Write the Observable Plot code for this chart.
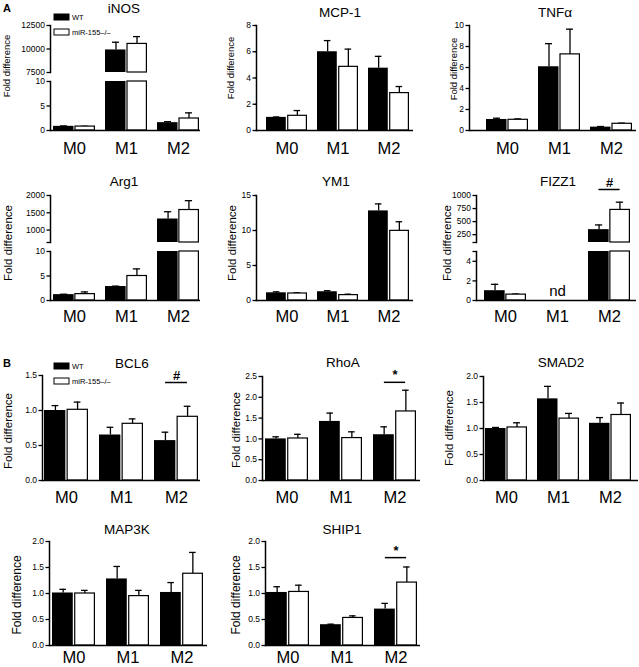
<!DOCTYPE html>
<html><head><meta charset="utf-8">
<script src="https://cdn.jsdelivr.net/npm/d3@7"></script>
<script src="https://cdn.jsdelivr.net/npm/@observablehq/plot@0.6"></script>
<style>
body{margin:0;background:#fff;}
#fig{position:relative;width:639px;height:667px;overflow:hidden;background:#fff;font-family:"Liberation Sans",Arial,sans-serif;}
#ov{position:absolute;left:0;top:0;pointer-events:none;}
</style></head><body><div id="fig"></div>
<script>
// ---------- data ----------
const groups = ["M0", "M1", "M2"];
const genotypes = ["WT", "miR-155–/–"];

const iNOS_WT = [0.85, 9900, 1.6],  iNOS_WT_err = [0.08, 820, 0.2];
const iNOS_KO = [0.8, 10540, 2.45], iNOS_KO_err = [0.05, 780, 1.15];
const MCP1_WT = [1.0, 6.0, 4.75],  MCP1_WT_err = [0.03, 0.85, 0.9];
const MCP1_KO = [1.12, 4.85, 2.85], MCP1_KO_err = [0.4, 1.35, 0.5];
const TNFa_WT = [1.05, 6.07, 0.32], TNFa_WT_err = [0.12, 2.2, 0.06];
const TNFa_KO = [1.02, 7.25, 0.64], TNFa_KO_err = [0.08, 2.4, 0.06];
const Arg1_WT = [1.2, 2.85, 1320], Arg1_WT_err = [0.08, 0.08, 210];
const Arg1_KO = [1.3, 5.0, 1580],  Arg1_KO_err = [0.45, 1.45, 270];
const YM1_WT = [1.1, 1.25, 12.8],  YM1_WT_err = [0.14, 0.15, 1.0];
const YM1_KO = [1.0, 0.77, 9.95],  YM1_KO_err = [0.1, 0.13, 1.3];
const FIZZ1_WT = [1.0, null, 346], FIZZ1_WT_err = [0.65, null, 90];
const FIZZ1_KO = [0.6, null, 724], FIZZ1_KO_err = [0.06, null, 148];
const BCL6_WT = [1.0, 0.65, 0.57], BCL6_WT_err = [0.07, 0.11, 0.12];
const BCL6_KO = [1.01, 0.81, 0.91], BCL6_KO_err = [0.11, 0.07, 0.15];
const RhoA_WT = [1.0, 1.42, 1.1],  RhoA_WT_err = [0.05, 0.2, 0.19];
const RhoA_KO = [1.01, 1.02, 1.66], RhoA_KO_err = [0.1, 0.15, 0.51];
const SMAD2_WT = [1.0, 1.57, 1.1], SMAD2_WT_err = [0.02, 0.24, 0.11];
const SMAD2_KO = [1.02, 1.19, 1.26], SMAD2_KO_err = [0.09, 0.1, 0.23];
const MAP3K_WT = [1.01, 1.28, 1.02], MAP3K_WT_err = [0.07, 0.24, 0.19];
const MAP3K_KO = [1.0, 0.95, 1.38], MAP3K_KO_err = [0.06, 0.11, 0.41];
const SHIP1_WT = [1.02, 0.4, 0.7], SHIP1_WT_err = [0.11, 0.01, 0.11];
const SHIP1_KO = [1.03, 0.53, 1.21], SHIP1_KO_err = [0.13, 0.04, 0.3];

const intFmt = d => String(d);
const dec1 = d => d.toFixed(1);

// ---------- drawing ----------
const fig = document.getElementById("fig");
const ML = 40, MR = 4, MT = 24;

function segment(p, s) {
  const left = p.x0 - ML, top = s.yTop - MT;
  const width = ML + (p.x1 - p.x0) + MR;
  const MB = s.bottom ? 34 : 2;
  const height = MT + (s.yBot - s.yTop) + MB;
  const pi = 0.2;
  const step = (p.g1 - p.g0) / (groups.length - pi);
  const bw = step * (1 - pi);
  const [lo, hi] = s.domain;
  const rows = [];
  groups.forEach((g, i) => {
    rows.push({g, geno: genotypes[0], v: p.wt[i], e: p.wtErr[i]});
    rows.push({g, geno: genotypes[1], v: p.ko[i], e: p.koErr[i]});
  });
  const valid = rows.filter(d => d.v != null && d.v > lo);
  const wt = valid.filter(d => d.geno === genotypes[0]);
  const ko = valid.filter(d => d.geno === genotypes[1]);
  const inSeg = d => d.v >= lo && d.v <= hi;
  const cap = 7;
  const marks = [
    Plot.ruleX(ko.filter(inSeg), {x: "g", y1: "v", y2: d => d.v + d.e, dx: bw / 4, stroke: "black", strokeWidth: 1.3}),
    Plot.tickY(ko.filter(inSeg), {x: "g", y: d => d.v + d.e, insetLeft: 3 * bw / 4 - cap / 2, insetRight: bw / 4 - cap / 2, stroke: "black", strokeWidth: 1.3}),
    Plot.ruleX(wt.filter(inSeg), {x: "g", y1: "v", y2: d => d.v + d.e, dx: -bw / 4, stroke: "black", strokeWidth: 1.3}),
    Plot.tickY(wt.filter(inSeg), {x: "g", y: d => d.v + d.e, insetLeft: bw / 4 - cap / 2, insetRight: 3 * bw / 4 - cap / 2, stroke: "black", strokeWidth: 1.3}),
    Plot.barY(wt, {x: "g", y1: lo, y2: d => Math.min(d.v, hi), fill: "black", insetRight: bw / 2 + 0.5}),
    Plot.barY(ko, {x: "g", y1: lo, y2: d => Math.min(d.v, hi), fill: "white", stroke: "black", strokeWidth: 1.2, insetLeft: bw / 2 + 1, insetRight: 0.6}),
    Plot.axisY(s.ticks, {tickFormat: d => (s.blank && s.blank.includes(d)) ? "" : s.fmt(d), tickSize: 3.5, tickPadding: 2, fontSize: 8.5, strokeWidth: 1.3, label: null}),
    Plot.frame({anchor: "left", strokeWidth: 1.5})
  ];
  if (s.bottom) {
    marks.push(Plot.ruleY([lo], {strokeWidth: 1.5}));
    marks.push(Plot.axisX({tickSize: 0, tickPadding: s.catPad, fontSize: 16.5, label: null}));
  }
  if (s.sig) {
    marks.push(Plot.tickY([{g: "M2"}], {x: "g", y: () => s.sig.y, insetLeft: bw / 4, insetRight: bw / 4, stroke: "black", strokeWidth: 1.5}));
    marks.push(Plot.text([{g: "M2"}], {x: "g", y: () => s.sig.y, text: () => s.sig.sym, dy: -7, fontSize: 13, fontWeight: "bold"}));
  }
  if (s.nd) {
    marks.push(Plot.text([{g: s.nd}], {x: "g", y: () => lo, text: () => "nd", dy: -9, fontSize: 15}));
  }
  const svg = Plot.plot({
    width, height,
    marginLeft: ML, marginRight: MR, marginTop: MT, marginBottom: MB,
    x: {type: "band", domain: groups, range: [p.g0 - left, p.g1 - left], paddingInner: pi, paddingOuter: 0, axis: s.bottom ? undefined : null},
    y: {domain: s.domain},
    style: {background: "transparent", color: "black", fontFamily: "'Liberation Sans', Arial, sans-serif", overflow: "visible"},
    marks
  });
  svg.style.position = "absolute";
  svg.style.left = left + "px";
  svg.style.top = top + "px";
  fig.appendChild(svg);
}

function panel(p) {
  p.segments.forEach(s => segment(p, s));
}

// row 1
panel({x0: 50, x1: 200, g0: 52, g1: 199, wt: iNOS_WT, wtErr: iNOS_WT_err, ko: iNOS_KO, koErr: iNOS_KO_err, segments: [
  {yTop: 25, yBot: 72, domain: [7500, 12500], ticks: [7500, 10000, 12500], fmt: intFmt},
  {yTop: 81, yBot: 130, domain: [0, 10], ticks: [0, 5, 10], fmt: intFmt, bottom: true, catPad: 12}]});
panel({x0: 256, x1: 413, g0: 265, g1: 410, wt: MCP1_WT, wtErr: MCP1_WT_err, ko: MCP1_KO, koErr: MCP1_KO_err, segments: [
  {yTop: 25, yBot: 130, domain: [0, 8], ticks: [0, 2, 4, 6, 8], fmt: intFmt, bottom: true, catPad: 12}]});
panel({x0: 469, x1: 636, g0: 485, g1: 632, wt: TNFa_WT, wtErr: TNFa_WT_err, ko: TNFa_KO, koErr: TNFa_KO_err, segments: [
  {yTop: 25, yBot: 130, domain: [0, 10], ticks: [0, 2, 4, 6, 8, 10], fmt: intFmt, bottom: true, catPad: 12}]});
// row 2
panel({x0: 50, x1: 200, g0: 53, g1: 199, wt: Arg1_WT, wtErr: Arg1_WT_err, ko: Arg1_KO, koErr: Arg1_KO_err, segments: [
  {yTop: 195, yBot: 242, domain: [640, 2000], ticks: [640, 1000, 1500, 2000], blank: [640], fmt: intFmt},
  {yTop: 251, yBot: 300, domain: [0, 10], ticks: [0, 5, 10], fmt: intFmt, bottom: true, catPad: 10}]});
panel({x0: 256, x1: 413, g0: 265, g1: 410, wt: YM1_WT, wtErr: YM1_WT_err, ko: YM1_KO, koErr: YM1_KO_err, segments: [
  {yTop: 195, yBot: 300, domain: [0, 15], ticks: [0, 5, 10, 15], fmt: intFmt, bottom: true, catPad: 10}]});
panel({x0: 476, x1: 636, g0: 484, g1: 630, wt: FIZZ1_WT, wtErr: FIZZ1_WT_err, ko: FIZZ1_KO, koErr: FIZZ1_KO_err, segments: [
  {yTop: 195, yBot: 242, domain: [100, 1000], ticks: [100, 250, 500, 750, 1000], blank: [100], fmt: intFmt, sig: {y: 1115, sym: "#"}},
  {yTop: 251, yBot: 300, domain: [0, 5], ticks: [0, 2, 4, 5], blank: [5], fmt: intFmt, bottom: true, catPad: 10, nd: "M1"}]});
// row 3
panel({x0: 42, x1: 200, g0: 43, g1: 198, wt: BCL6_WT, wtErr: BCL6_WT_err, ko: BCL6_KO, koErr: BCL6_KO_err, segments: [
  {yTop: 375, yBot: 480, domain: [0, 1.5], ticks: [0, 0.5, 1, 1.5], fmt: dec1, bottom: true, catPad: 11, sig: {y: 1.4, sym: "#"}}]});
panel({x0: 262, x1: 420, g0: 265, g1: 417, wt: RhoA_WT, wtErr: RhoA_WT_err, ko: RhoA_KO, koErr: RhoA_KO_err, segments: [
  {yTop: 376, yBot: 480, domain: [0, 2.5], ticks: [0, 0.5, 1, 1.5, 2, 2.5], fmt: dec1, bottom: true, catPad: 11, sig: {y: 2.36, sym: "*"}}]});
panel({x0: 483, x1: 638, g0: 484, g1: 631, wt: SMAD2_WT, wtErr: SMAD2_WT_err, ko: SMAD2_KO, koErr: SMAD2_KO_err, segments: [
  {yTop: 376, yBot: 480, domain: [0, 2], ticks: [0, 0.5, 1, 1.5, 2], fmt: dec1, bottom: true, catPad: 11}]});
// row 4
panel({x0: 49, x1: 207, g0: 52, g1: 204, wt: MAP3K_WT, wtErr: MAP3K_WT_err, ko: MAP3K_KO, koErr: MAP3K_KO_err, segments: [
  {yTop: 541, yBot: 645, domain: [0, 2], ticks: [0, 0.5, 1, 1.5, 2], fmt: dec1, bottom: true, catPad: 6}]});
panel({x0: 265, x1: 420, g0: 266, g1: 418, wt: SHIP1_WT, wtErr: SHIP1_WT_err, ko: SHIP1_KO, koErr: SHIP1_KO_err, segments: [
  {yTop: 541, yBot: 645, domain: [0, 2], ticks: [0, 0.5, 1, 1.5, 2], fmt: dec1, bottom: true, catPad: 6, sig: {y: 1.69, sym: "*"}}]});

// ---------- overlay text: titles, y labels, legends, panel letters ----------
const titles = [
  ["iNOS", 124, 13], ["MCP-1", 340, 17], ["TNFα", 555, 17],
  ["Arg1", 124, 186], ["YM1", 336, 186], ["FIZZ1", 558, 186],
  ["BCL6", 132, 368], ["RhoA", 343, 367], ["SMAD2", 561, 367],
  ["MAP3K", 127, 534], ["SHIP1", 342, 534]
];
const ylabels = [
  [7, 66, 9.5], [231, 68, 9.5], [454, 69, 9.5],
  [8, 243, 11.5], [232, 243, 11.5], [447, 243, 11.5],
  [7.5, 431, 11.5], [236, 430, 11.5], [449, 428, 11.5],
  [17, 595, 12], [235.5, 595, 12]
];
const ns = "http://www.w3.org/2000/svg";
const ov = document.createElementNS(ns, "svg");
ov.setAttribute("id", "ov");
ov.setAttribute("width", 639);
ov.setAttribute("height", 667);
ov.setAttribute("font-family", "'Liberation Sans', Arial, sans-serif");
function txt(str, x, y, attrs) {
  const t = document.createElementNS(ns, "text");
  t.textContent = str;
  t.setAttribute("x", x); t.setAttribute("y", y);
  for (const k in attrs) t.setAttribute(k, attrs[k]);
  ov.appendChild(t);
  return t;
}
function rect(x, y, w, h, fill) {
  const r = document.createElementNS(ns, "rect");
  r.setAttribute("x", x); r.setAttribute("y", y);
  r.setAttribute("width", w); r.setAttribute("height", h);
  r.setAttribute("fill", fill); r.setAttribute("stroke", "black"); r.setAttribute("stroke-width", 1);
  ov.appendChild(r);
}
titles.forEach(([s, x, y]) => txt(s, x, y, {"text-anchor": "middle", "font-size": 13.5}));
ylabels.forEach(([x, y, fs]) => txt("Fold difference", 0, 0, {"text-anchor": "middle", "font-size": fs, "dy": "0.35em", "transform": `translate(${x},${y}) rotate(-90)`}));
txt("A", 3, 12, {"font-size": 11, "font-weight": "bold"});
txt("B", 3, 367, {"font-size": 11, "font-weight": "bold"});
[[14, 29], [363, 378]].forEach(([yw, yk]) => {
  rect(54, yw, 15, 6, "black");
  rect(54, yk, 15, 6, "white");
  txt(genotypes[0], 72, yw + 5.5, {"font-size": 7.5});
  txt(genotypes[1], 72, yk + 5.5, {"font-size": 7.5});
});
fig.appendChild(ov);
</script></body></html>
